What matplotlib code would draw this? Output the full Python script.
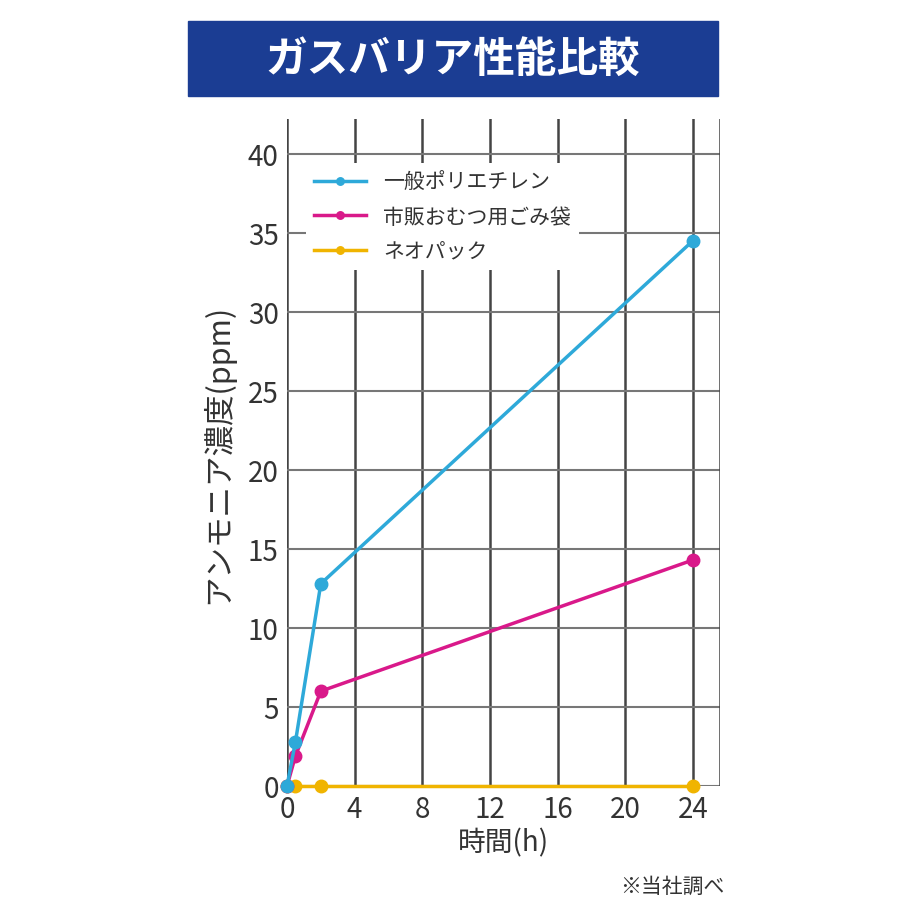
import matplotlib
matplotlib.use("Agg")
import matplotlib.pyplot as plt
from matplotlib.patches import Rectangle

plt.rcParams['font.family'] = 'Noto Sans CJK JP'

hours = [0, 0.5, 2, 24]
polyethylene = [0, 2.8, 12.8, 34.5]
diaper_bag = [0, 1.9, 6.0, 14.3]
neopack = [0, 0, 0, 0]
series_names = ["一般ポリエチレン", "市販おむつ用ごみ袋", "ネオパック"]
colors = ["#2ea9d9", "#d9198a", "#f0b400"]
xticks = [0, 4, 8, 12, 16, 20, 24]
yticks = [0, 5, 10, 15, 20, 25, 30, 35, 40]

fig = plt.figure(figsize=(9.2, 9.2), dpi=100)
fig.patches.append(Rectangle((188/920, 1-97/920), 530/920, 75/920, transform=fig.transFigure,
                             color="#1b3d93", zorder=0))
fig.text(453/920, 1-60/920, "ガスバリア性能比較", color="white", fontsize=30,
         fontweight="bold", ha="center", va="center")

ax = fig.add_axes([287/920, 1-787/920, 433/920, 667/920])
ax.set_xlim(0, 25.6)
ax.set_ylim(0, 42.2)
for t in xticks:
    ax.axvline(t, color="#444444", lw=1.8, zorder=1)
for t in yticks:
    ax.axhline(t, color="#777777", lw=1.5, zorder=1)
for s in ax.spines.values():
    s.set_visible(False)
ax.axvline(25.6, color="#444444", lw=1.8, zorder=1)

order = [(neopack, 2), (diaper_bag, 1), (polyethylene, 0)]
handles = {}
for ys, i in order:
    ln, = ax.plot(hours, ys, color=colors[i], marker="o", ms=9, lw=2.5,
                  label=series_names[i], zorder=3 + (2 - i), clip_on=False)
    handles[i] = ln

ax.set_xticks(xticks)
ax.set_yticks(yticks)
ax.tick_params(length=0, labelsize=20, labelcolor="#333333", pad=6)
ax.set_xlabel("時間(h)", fontsize=20, color="#333333", labelpad=2)
ax.set_ylabel("アンモニア濃度(ppm)", fontsize=22, color="#333333", labelpad=10)
leg = ax.legend([handles[0], handles[1], handles[2]], series_names,
                loc="upper left", bbox_to_anchor=(0.02, 0.95), fontsize=15, frameon=True,
                facecolor="white", edgecolor="none", framealpha=1, handlelength=2.5,
                labelspacing=0.6, markerscale=0.6)
leg.set_zorder(10)
for t in leg.get_texts():
    t.set_color("#333333")
fig.text(725/920, 1-887/920, "※当社調べ", fontsize=15, color="#333333", ha="right", va="center")
fig.savefig("out.png", dpi=100, facecolor="white")
